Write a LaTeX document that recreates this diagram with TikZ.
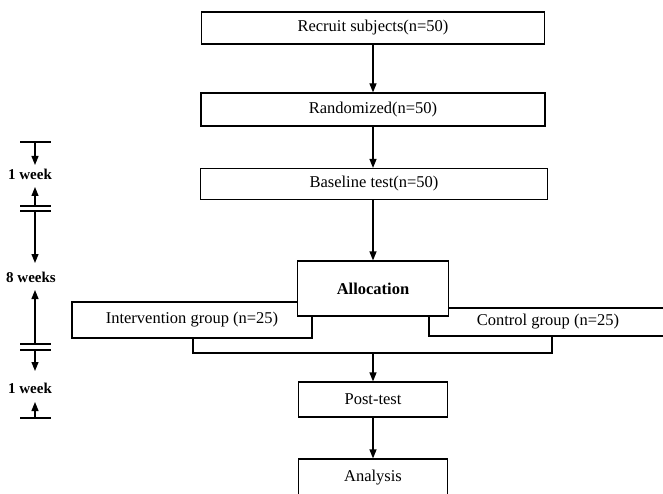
\documentclass[tikz,border=0pt]{standalone}
\usepackage{fontspec}
\setmainfont{Liberation Serif}
\usetikzlibrary{arrows.meta}
\begin{document}
\begin{tikzpicture}[x=1pt,y=-1pt,
  box/.style={draw,line width=1.2pt,fill=white,inner sep=0pt,font=\fontsize{16.5}{18}\selectfont},
  arr/.style={line width=1.2pt,-{Triangle[length=9pt,width=7pt]}},
  ln/.style={line width=1.2pt},
  wk/.style={font=\fontsize{15}{16}\selectfont\bfseries,inner sep=0pt}]
\useasboundingbox (0,0) rectangle (663,494);
% main column
\node[box,minimum width=343pt,minimum height=32pt] (rec) at (373,28) {Recruit subjects(n=50)};
\node[box,minimum width=344pt,minimum height=33pt] (ran) at (373,109.5) {Randomized(n=50)};
\node[box,minimum width=347pt,minimum height=31pt] (bas) at (374,184) {Baseline test(n=50)};
\node[box,minimum width=240pt,minimum height=36pt] (int) at (192,320) {Intervention group (n=25)};
\node[box,minimum width=238pt,minimum height=28pt] (con) at (548,322) {Control group (n=25)};
\node[box,minimum width=151pt,minimum height=55pt,font=\fontsize{16.5}{18}\selectfont\bfseries] (all) at (373,288.5) {Allocation};
\node[box,minimum width=149pt,minimum height=35pt] (post) at (373,399.5) {Post-test};
\node[box,minimum width=149pt,minimum height=38pt] (ana) at (373,478) {Analysis};
% connectors
\draw[arr] (rec.south) -- (ran.north);
\draw[arr] (ran.south) -- (ran.south |- bas.north);
\draw[arr] (ran.south |- bas.south) -- (all.north);
\coordinate (jl) at (193,353);
\coordinate (jr) at (552,353);
\draw[ln] (int.south -| jl) -- (jl) -- (jr) -- (con.south -| jr);
\draw[arr] (all.south |- jl) -- (post.north);
\draw[arr] (post.south) -- (ana.north);
% timeline
\coordinate (a0) at (35,142);
\coordinate (a1) at (35,165);
\coordinate (a2) at (35,187);
\coordinate (a3) at (35,206);
\coordinate (a4) at (35,211);
\coordinate (a5) at (35,263);
\coordinate (a6) at (35,290);
\coordinate (a7) at (35,344);
\coordinate (a8) at (35,350);
\coordinate (a9) at (35,371);
\coordinate (a10) at (35,402);
\coordinate (a11) at (35,418);
\foreach \c in {a0,a3,a4,a7,a8,a11}
  \draw[ln] ([xshift=-15pt]\c) -- ([xshift=16pt]\c);
\node[wk] (w1) at (30,174) {1 week};
\node[wk] (w2) at (31,277) {8 weeks};
\node[wk] (w3) at (30,388) {1 week};
\draw[arr] (a0) -- (a1);
\draw[arr] (a3) -- (a2);
\draw[arr] (a4) -- (a5);
\draw[arr] (a7) -- (a6);
\draw[arr] (a8) -- (a9);
\draw[arr] (a11) -- (a10);
\end{tikzpicture}
\end{document}
